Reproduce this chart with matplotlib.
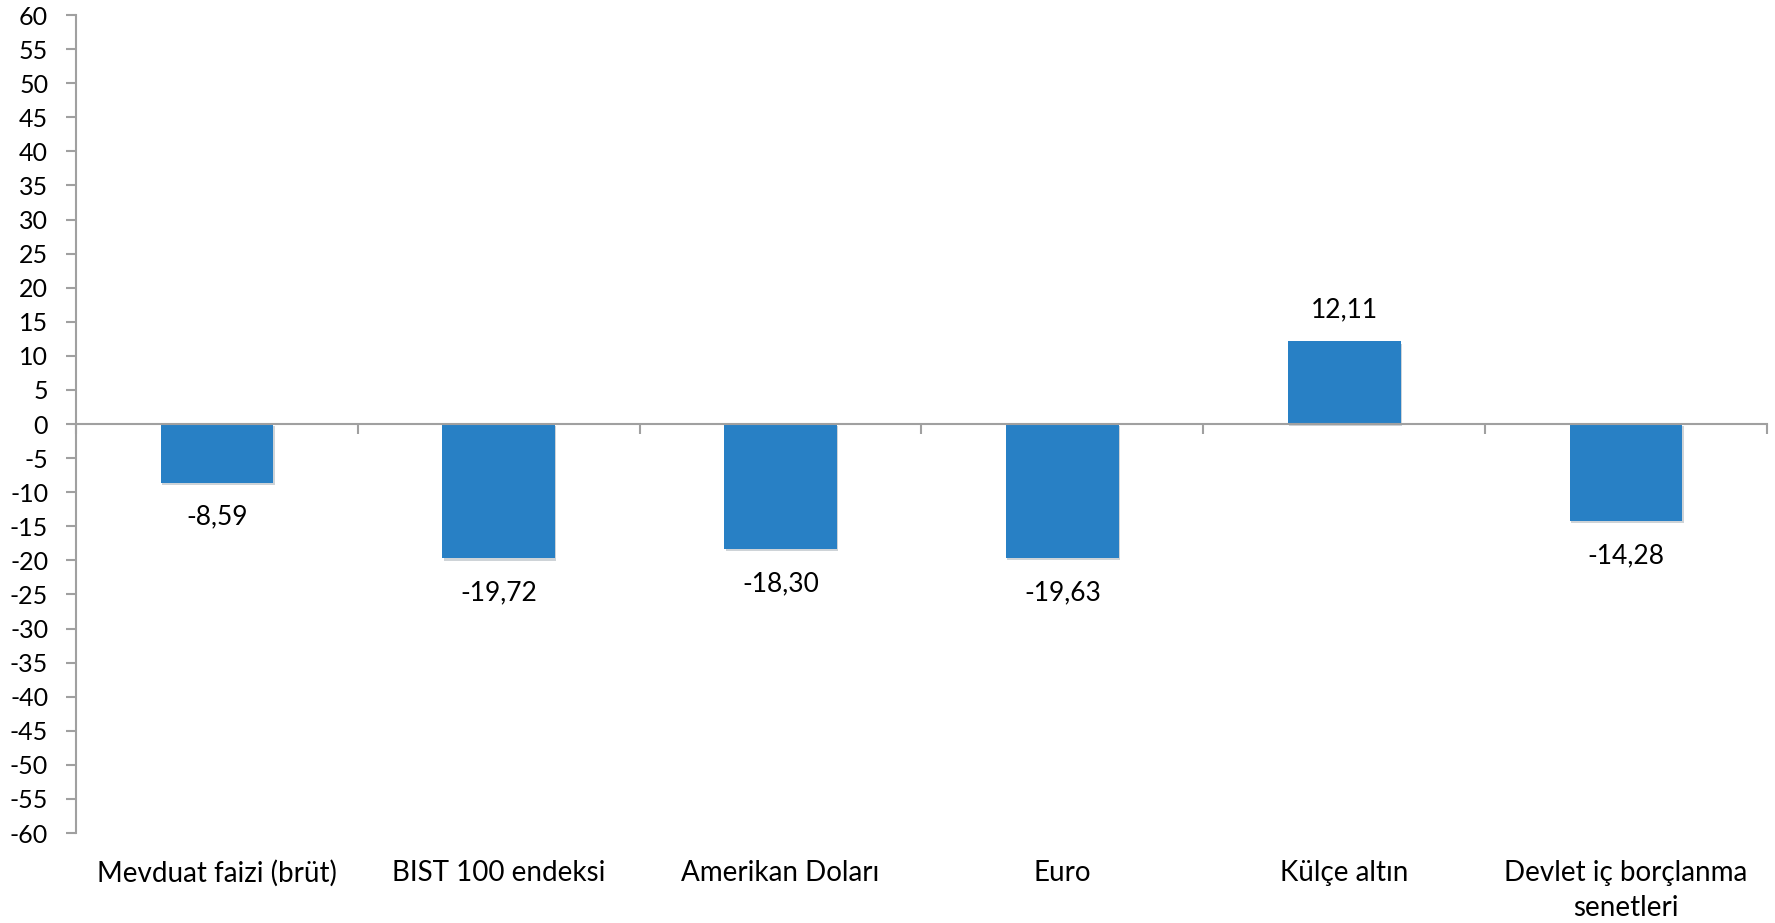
import matplotlib
matplotlib.use("Agg")
import matplotlib.pyplot as plt
import matplotlib.transforms as mtransforms
import matplotlib.patheffects as pe
import numpy as np

# veri
kategoriler = ["Mevduat faizi (brüt)", "BIST 100 endeksi", "Amerikan Doları",
               "Euro", "Külçe altın", "Devlet iç borçlanma\nsenetleri"]
getiriler = [-8.59, -19.72, -18.30, -19.63, 12.11, -14.28]
y_ticks = list(range(-60, 65, 5))

plt.rcParams["font.family"] = ["Lato", "DejaVu Sans"]
plt.rcParams["axes.unicode_minus"] = False

fig = plt.figure(figsize=(17.75, 9.23), dpi=100)
ax = fig.add_axes([0.0428, 0.0975, 0.9527, 0.8862])

x = np.arange(len(kategoriler))
bars = ax.bar(x, getiriler, width=0.4, color="#2880C5", zorder=2)
for b in bars:
    b.set_path_effects([pe.SimplePatchShadow(offset=(1, -1.5), alpha=0.2), pe.Normal()])

# değer etiketleri
for xi, v in zip(x, getiriler):
    txt = f"{v:.2f}".replace(".", ",")
    off = 23 if v >= 0 else -25
    ax.annotate(txt, (xi, v), xytext=(0, off), textcoords="offset points",
                ha="center", va="center", fontsize=19, color="black")

ax.set_xlim(-0.5, len(kategoriler) - 0.5)
ax.set_ylim(-60, 60)
ax.set_yticks(y_ticks)
ax.set_yticklabels([str(t) for t in y_ticks])

# eksen çizgileri
gri = "#A0A0A0"
for s in ["top", "right"]:
    ax.spines[s].set_visible(False)
ax.spines["left"].set_color(gri)
ax.spines["left"].set_linewidth(1.5)
ax.spines["bottom"].set_position(("data", 0))
ax.spines["bottom"].set_color(gri)
ax.spines["bottom"].set_linewidth(1.5)

ax.set_xticks(np.arange(len(kategoriler) + 1) - 0.5)
ax.set_xticklabels([])
ax.tick_params(axis="x", length=7, width=1.5, color=gri, direction="out")
ax.tick_params(axis="y", length=7, width=1.5, color=gri, labelsize=18, pad=13)

# kategori etiketleri
trans = mtransforms.blended_transform_factory(ax.transData, ax.transAxes)
for xi, ad in zip(x, kategoriler):
    ax.text(xi, -0.033, ad, transform=trans, ha="center", va="top",
            fontsize=20, linespacing=1.45)

fig.savefig("out.png", dpi=100)
